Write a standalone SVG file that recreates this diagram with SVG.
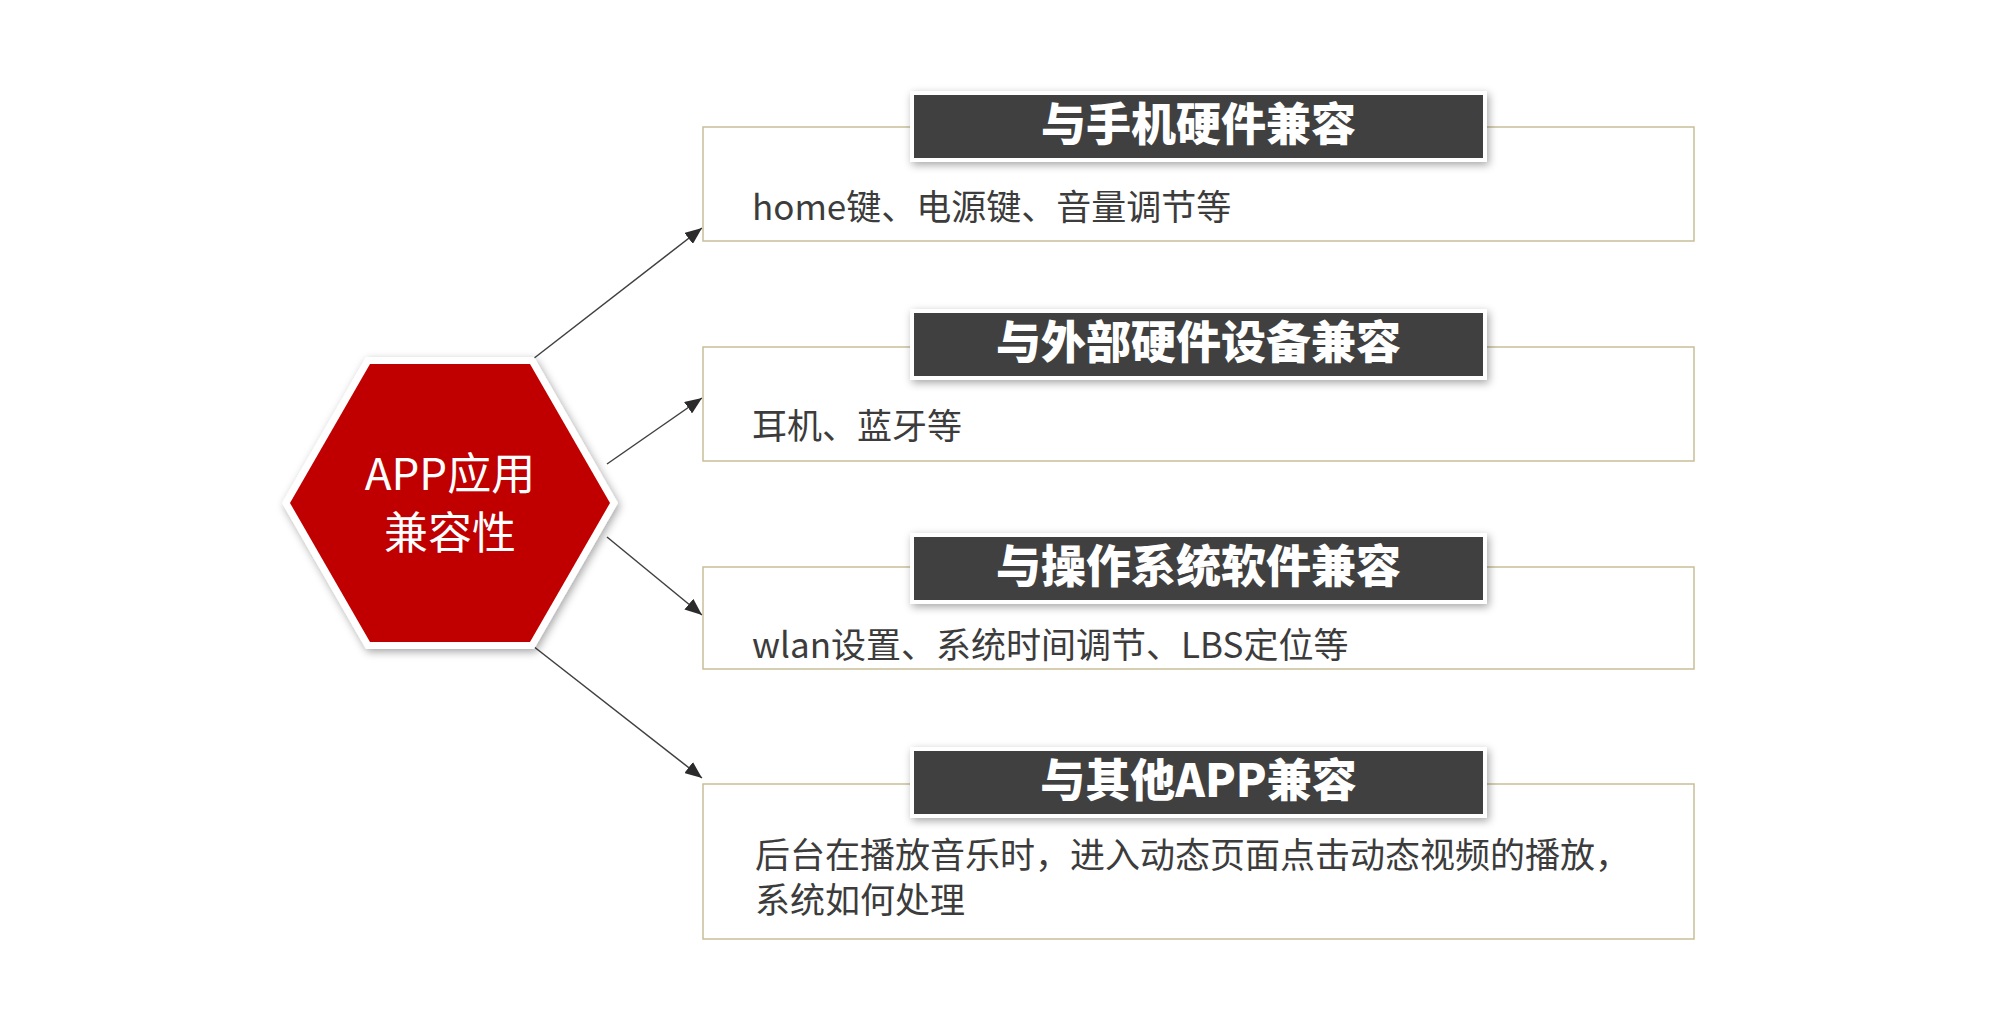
<svg xmlns="http://www.w3.org/2000/svg" width="2004" height="1014" viewBox="0 0 2004 1014">
<defs>
<style>
.body{fill:#fff;stroke:#c8be96;stroke-width:1.5}
.tbox{fill:#404040;stroke:#fff;stroke-width:4;filter:url(#sh)}
.ttl{font-family:"Noto Sans CJK SC","Noto Sans",sans-serif;font-weight:900;font-size:45px;fill:#fff;text-anchor:middle}
.txt{font-family:"Noto Sans CJK SC","Noto Sans",sans-serif;font-size:35px;fill:#3c3c3c}
.hex{font-family:"Noto Sans CJK SC","Noto Sans",sans-serif;font-size:44px;fill:#fff;text-anchor:middle}
.conn{stroke:#404040;stroke-width:1.5;fill:none;marker-end:url(#arr)}
</style>
<filter id="sh" x="-20%" y="-20%" width="140%" height="140%">
<feDropShadow dx="2" dy="3" stdDeviation="4" flood-color="#000" flood-opacity="0.35"/>
</filter>
<marker id="arr" markerUnits="userSpaceOnUse" markerWidth="18" markerHeight="14" refX="17" refY="7" orient="auto">
<path d="M0,0 L17,7 L0,14 Z" fill="#2b2b2b"/>
</marker>
</defs>
<rect width="2004" height="1014" fill="#fff"/>
<g id="connectors">
<line class="conn" x1="533" y1="359" x2="702" y2="228"/>
<line class="conn" x1="607" y1="464" x2="702" y2="398"/>
<line class="conn" x1="607" y1="537" x2="702" y2="615"/>
<line class="conn" x1="533" y1="646" x2="702" y2="778"/>
</g>
<g id="center">
<polygon points="366,357 534,357 618,503 534,649 366,649 282,503" fill="#fff" filter="url(#sh)"/>
<polygon points="370,364 530,364 610,503 530,642 370,642 290,503" fill="#c00000"/>
<text class="hex" x="450" y="490">APP应用</text>
<text class="hex" x="450" y="549">兼容性</text>
</g>
<g id="box1">
<rect class="body" x="703" y="127" width="991" height="114"/>
<rect class="tbox" x="912" y="93" width="573" height="67"/>
<text class="ttl" x="1198.5" y="141">与手机硬件兼容</text>
<text class="txt" x="752" y="220">home键、电源键、音量调节等</text>
</g>
<g id="box2">
<rect class="body" x="703" y="347" width="991" height="114"/>
<rect class="tbox" x="912" y="311" width="573" height="67"/>
<text class="ttl" x="1198.5" y="359">与外部硬件设备兼容</text>
<text class="txt" x="752" y="439">耳机、蓝牙等</text>
</g>
<g id="box3">
<rect class="body" x="703" y="567" width="991" height="102"/>
<rect class="tbox" x="912" y="535" width="573" height="67"/>
<text class="ttl" x="1198.5" y="583">与操作系统软件兼容</text>
<text class="txt" x="752" y="658">wlan设置、系统时间调节、LBS定位等</text>
</g>
<g id="box4">
<rect class="body" x="703" y="784" width="991" height="155"/>
<rect class="tbox" x="912" y="749" width="573" height="67"/>
<text class="ttl" x="1198.5" y="797">与其他APP兼容</text>
<text class="txt" x="755" y="868">后台在播放音乐时，进入动态页面点击动态视频的播放，</text>
<text class="txt" x="755" y="913">系统如何处理</text>
</g>
</svg>
